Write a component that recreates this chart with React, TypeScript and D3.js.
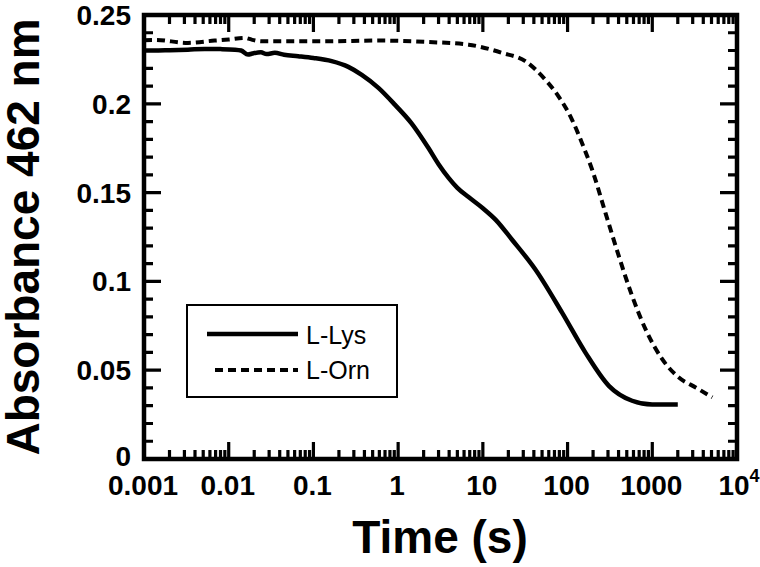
import React from "react";
import * as d3 from "d3";

const lysTime = [0.001, 0.0013, 0.002, 0.0033, 0.0052, 0.008, 0.0118, 0.014, 0.0169, 0.019, 0.024, 0.028, 0.035, 0.045, 0.066, 0.1, 0.164, 0.258, 0.372, 0.585, 0.92, 1.44, 2.28, 3.0, 3.94, 5.0, 6.78, 10, 14.1, 22, 41.7, 86.1, 162.5, 307, 578, 998, 2000];
const lysValue = [0.2300, 0.2300, 0.2302, 0.2305, 0.2309, 0.2308, 0.2305, 0.2300, 0.2277, 0.2283, 0.2290, 0.2280, 0.2287, 0.2276, 0.2268, 0.2258, 0.2240, 0.2208, 0.2163, 0.2090, 0.1994, 0.1890, 0.1751, 0.1660, 0.1583, 0.1527, 0.1475, 0.1412, 0.1348, 0.1236, 0.1067, 0.0824, 0.0599, 0.0412, 0.0328, 0.0307, 0.0307];

const ornTime = [0.001, 0.00134, 0.0033, 0.0068, 0.01, 0.0155, 0.019, 0.0243, 0.05, 0.137, 0.585, 2.28, 6.78, 16.8, 31.7, 54.7, 78.5, 113, 148, 195, 280, 403, 578, 834, 1310, 2060, 3250, 5110];
const ornValue = [0.2358, 0.2360, 0.2343, 0.2356, 0.2362, 0.2371, 0.2360, 0.2352, 0.2352, 0.2352, 0.2356, 0.2348, 0.2333, 0.2287, 0.2240, 0.2135, 0.2041, 0.1910, 0.1779, 0.1629, 0.1386, 0.1142, 0.0918, 0.0730, 0.0562, 0.0459, 0.0403, 0.0347];

const xTickValues = [0.001, 0.01, 0.1, 1, 10, 100, 1000, 10000];
const xTickLabels = ["0.001", "0.01", "0.1", "1", "10", "100", "1000", "10^4"];
const xMinorMultipliers = [2, 3, 4, 5, 6, 7, 8, 9];
const yTickValues = [0, 0.05, 0.1, 0.15, 0.2, 0.25];
const yTickLabels = ["0", "0.05", "0.1", "0.15", "0.2", "0.25"];
const yMinorValues = [0.01, 0.02, 0.03, 0.04, 0.06, 0.07, 0.08, 0.09, 0.11, 0.12, 0.13, 0.14, 0.16, 0.17, 0.18, 0.19, 0.21, 0.22, 0.23, 0.24];

const seriesNames = ["L-Lys", "L-Orn"];

const FONT = "'Liberation Sans', Arial, Helvetica, sans-serif";

export default function App() {
  const left = 144, right = 737, top = 15, bottom = 459;
  const x = d3.scaleLog().domain([0.001, 10000]).range([left, right]);
  const y = d3.scaleLinear().domain([0, 0.25]).range([bottom, top]);

  const pathGen = d3
    .line<[number, number]>()
    .x((d) => x(d[0]))
    .y((d) => y(d[1]))
    .curve(d3.curveMonotoneX);

  const lysData: [number, number][] = lysTime.map((t, i) => [t, lysValue[i]]);
  const ornData: [number, number][] = ornTime.map((t, i) => [t, ornValue[i]]);

  const xMinor: number[] = [];
  xTickValues.slice(0, -1).forEach((d) => {
    xMinorMultipliers.forEach((k) => xMinor.push(k * d));
  });

  const segs: string[] = [];
  xTickValues.forEach((v) => {
    segs.push(`M${x(v).toFixed(2)},${bottom}L${x(v).toFixed(2)},${bottom - 17}`);
    segs.push(`M${x(v).toFixed(2)},${top}L${x(v).toFixed(2)},${top + 17}`);
  });
  xMinor.forEach((v) => {
    segs.push(`M${x(v).toFixed(2)},${bottom}L${x(v).toFixed(2)},${bottom - 9}`);
    segs.push(`M${x(v).toFixed(2)},${top}L${x(v).toFixed(2)},${top + 9}`);
  });
  yTickValues.forEach((v) => {
    segs.push(`M${left},${y(v).toFixed(2)}L${left + 17},${y(v).toFixed(2)}`);
    segs.push(`M${right},${y(v).toFixed(2)}L${right - 17},${y(v).toFixed(2)}`);
  });
  yMinorValues.forEach((v) => {
    segs.push(`M${left},${y(v).toFixed(2)}L${left + 9},${y(v).toFixed(2)}`);
    segs.push(`M${right},${y(v).toFixed(2)}L${right - 9},${y(v).toFixed(2)}`);
  });
  const tickPath = segs.join("");

  return (
    <svg width={760} height={567} style={{ position: "absolute", left: 0, top: 0, background: "#fff" }}>
      <path d={pathGen(lysData) || ""} fill="none" stroke="#000" strokeWidth={4.5} strokeLinejoin="round" />
      <path d={pathGen(ornData) || ""} fill="none" stroke="#000" strokeWidth={4} strokeDasharray="8,5" />
      <rect x={left} y={top} width={right - left} height={bottom - top} fill="none" stroke="#000" strokeWidth={4.5} />

      {xTickValues.map((v, i) => {
        const lab = xTickLabels[i];
        if (lab.includes("^")) {
          const parts = lab.split("^");
          return (
            <text key={"xl" + i} x={x(v) + 2} y={495} textAnchor="middle" fontFamily={FONT} fontWeight="bold" fontSize={28} fill="#000">
              {parts[0]}
              <tspan fontSize={18} dy={-13}>{parts[1]}</tspan>
            </text>
          );
        }
        return (
          <text key={"xl" + i} x={x(v) - 1} y={495} textAnchor="middle" fontFamily={FONT} fontWeight="bold" fontSize={28} fill="#000">
            {lab}
          </text>
        );
      })}
      {yTickValues.map((v, i) => (
        <text key={"yl" + i} x={131} y={y(v) - (v === 0 ? 3 : 0)} dy="0.36em" textAnchor="end" fontFamily={FONT} fontWeight="bold" fontSize={28} fill="#000">
          {yTickLabels[i]}
        </text>
      ))}

      <text x={440} y={553} textAnchor="middle" fontFamily={FONT} fontWeight="bold" fontSize={46}>
        Time (s)
      </text>
      <text
        transform={`translate(39, ${(top + bottom) / 2}) rotate(-90)`}
        textAnchor="middle"
        fontFamily={FONT}
        fontWeight="bold"
        fontSize={46}
      >
        Absorbance 462 nm
      </text>

      <rect x={187} y={305} width={210} height={92} fill="#fff" stroke="#000" strokeWidth={2} />
      <line x1={207} x2={298} y1={334} y2={334} stroke="#000" strokeWidth={4.5} />
      <line x1={215} x2={298} y1={370} y2={370} stroke="#000" strokeWidth={4} strokeDasharray="8,5" />
      <text x={306} y={344} fontFamily={FONT} fontSize={25}>{seriesNames[0]}</text>
      <text x={306} y={379} fontFamily={FONT} fontSize={25}>{seriesNames[1]}</text>

      <path d={tickPath} fill="none" stroke="black" strokeWidth={3.2} />
    </svg>
  );
}
